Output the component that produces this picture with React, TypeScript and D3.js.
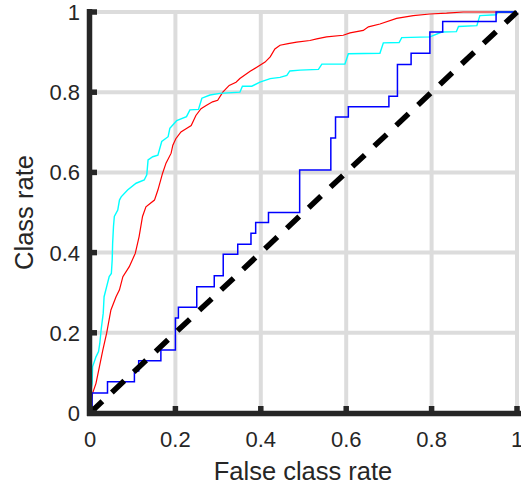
import React from "react"
import * as d3 from "d3"

// red model (smooth-ish ROC)
const redFpr = [0, 0.003, 0.006, 0.014, 0.022, 0.03, 0.039, 0.049, 0.061, 0.069, 0.077, 0.092, 0.106, 0.115, 0.123, 0.131, 0.151, 0.159, 0.17, 0.178, 0.19, 0.194, 0.201, 0.213, 0.225, 0.237, 0.248, 0.26, 0.272, 0.287, 0.299, 0.311, 0.326, 0.342, 0.351, 0.375, 0.398, 0.41, 0.422, 0.433, 0.445, 0.464, 0.484, 0.515, 0.531, 0.554, 0.593, 0.609, 0.64, 0.652, 0.679, 0.718, 0.757, 0.796, 0.835, 0.874, 1]
const redTpr = [0, 0.03, 0.049, 0.074, 0.115, 0.157, 0.199, 0.257, 0.29, 0.307, 0.34, 0.365, 0.398, 0.44, 0.49, 0.514, 0.531, 0.556, 0.598, 0.623, 0.648, 0.668, 0.684, 0.701, 0.709, 0.717, 0.742, 0.759, 0.767, 0.776, 0.78, 0.8, 0.817, 0.825, 0.834, 0.852, 0.867, 0.875, 0.888, 0.908, 0.917, 0.921, 0.925, 0.929, 0.933, 0.938, 0.942, 0.948, 0.954, 0.963, 0.97, 0.984, 0.991, 0.995, 0.997, 1, 1]

// cyan model
const cyanFpr = [0, 0.001, 0.005, 0.006, 0.014, 0.02, 0.023, 0.026, 0.031, 0.033, 0.039, 0.045, 0.05, 0.052, 0.053, 0.055, 0.057, 0.065, 0.069, 0.073, 0.088, 0.108, 0.127, 0.133, 0.136, 0.147, 0.159, 0.168, 0.183, 0.187, 0.203, 0.226, 0.234, 0.254, 0.262, 0.281, 0.304, 0.351, 0.357, 0.379, 0.398, 0.422, 0.445, 0.461, 0.468, 0.492, 0.535, 0.543, 0.597, 0.605, 0.679, 0.687, 0.724, 0.73, 0.796, 0.824, 0.858, 0.863, 0.906, 0.913, 0.951, 0.956, 1]
const cyanTpr = [0, 0.05, 0.074, 0.115, 0.14, 0.153, 0.174, 0.207, 0.249, 0.29, 0.315, 0.34, 0.348, 0.382, 0.423, 0.465, 0.49, 0.506, 0.531, 0.539, 0.556, 0.573, 0.581, 0.594, 0.631, 0.639, 0.643, 0.677, 0.689, 0.71, 0.729, 0.739, 0.756, 0.757, 0.785, 0.793, 0.797, 0.8, 0.815, 0.815, 0.825, 0.834, 0.837, 0.842, 0.853, 0.855, 0.857, 0.87, 0.87, 0.896, 0.897, 0.923, 0.924, 0.936, 0.938, 0.95, 0.951, 0.964, 0.966, 0.991, 0.993, 1, 1]

// blue model (staircase)
const blueFpr = [0, 0.005, 0.041, 0.104, 0.114, 0.166, 0.2, 0.207, 0.25, 0.291, 0.312, 0.346, 0.377, 0.388, 0.418, 0.491, 0.564, 0.575, 0.605, 0.7, 0.72, 0.752, 0.796, 0.826, 0.951, 1]
const blueTpr = [0, 0.05, 0.078, 0.105, 0.13, 0.157, 0.237, 0.264, 0.315, 0.342, 0.396, 0.421, 0.448, 0.475, 0.5, 0.606, 0.686, 0.738, 0.764, 0.79, 0.869, 0.897, 0.95, 0.976, 1, 1]

const ticks = [0, 0.2, 0.4, 0.6, 0.8, 1]
const tickLabels = ["0", "0.2", "0.4", "0.6", "0.8", "1"]

const W = 521
const H = 487
const axisColor = "#262626"
const font = "'Liberation Sans', Arial, Helvetica, sans-serif"

const App = () => {
  const x = d3.scaleLinear().domain([0, 1]).range([90, 517])
  const y = d3.scaleLinear().domain([0, 1]).range([413, 12])

  const line = d3.line<[number, number]>()
    .x(d => x(d[0]))
    .y(d => y(d[1]))
  const stepLine = d3.line<[number, number]>()
    .x(d => x(d[0]))
    .y(d => y(d[1]))
    .curve(d3.curveStepAfter)

  const zip = (a: number[], b: number[]) => a.map((v, i) => [v, b[i]] as [number, number])

  return (
    <svg width={W} height={H} style={{ position: "absolute", left: 0, top: 0, background: "#fff" }}>
      {/* grid */}
      <g stroke="#dcdcdc" strokeWidth={4}>
        {ticks.slice(1).map(t => (
          <line key={"gx" + t} x1={x(t)} x2={x(t)} y1={y(0)} y2={y(1)} />
        ))}
        {ticks.slice(1).map(t => (
          <line key={"gy" + t} x1={x(0)} x2={x(1)} y1={y(t)} y2={y(t)} />
        ))}
      </g>

      {/* curves */}
      <path d={line(zip(redFpr, redTpr)) || ""} fill="none" stroke="#ff0000" strokeWidth={1.2} />
      <path d={line(zip(cyanFpr, cyanTpr)) || ""} fill="none" stroke="#00ffff" strokeWidth={1.4} />
      <path d={stepLine(zip(blueFpr, blueTpr)) || ""} fill="none" stroke="#0000ff" strokeWidth={1.5} />
      <line x1={x(0)} y1={y(0)} x2={x(1)} y2={y(1)} stroke="#000" strokeWidth={5.5} strokeDasharray="17 13" />

      {/* axes */}
      <g stroke={axisColor} strokeWidth={5.5}>
        <line x1={89.5} x2={89.5} y1={9} y2={416} />
        <line x1={87} x2={521} y1={413.5} y2={413.5} />
        {ticks.map(t => (
          <line key={"ty" + t} x1={92} x2={97} y1={y(t)} y2={y(t)} />
        ))}
        {ticks.map(t => (
          <line key={"tx" + t} x1={x(t)} x2={x(t)} y1={411} y2={406} />
        ))}
      </g>

      {/* tick labels */}
      <g fontFamily={font} fontSize={22} fill={axisColor}>
        {ticks.map((t, i) => (
          <text key={"lx" + t} x={x(t)} y={447} textAnchor="middle">{tickLabels[i]}</text>
        ))}
        {ticks.map((t, i) => (
          <text key={"ly" + t} x={80} y={y(t) + 8} textAnchor="end">{tickLabels[i]}</text>
        ))}
      </g>

      {/* axis labels */}
      <text x={303} y={480} textAnchor="middle" fontFamily={font} fontSize={25.5} fill={axisColor}>False class rate</text>
      <text transform={`translate(33, 212.5) rotate(-90)`} textAnchor="middle" fontFamily={font} fontSize={25.5} fill={axisColor}>Class rate</text>
    </svg>
  )
}

export default App
